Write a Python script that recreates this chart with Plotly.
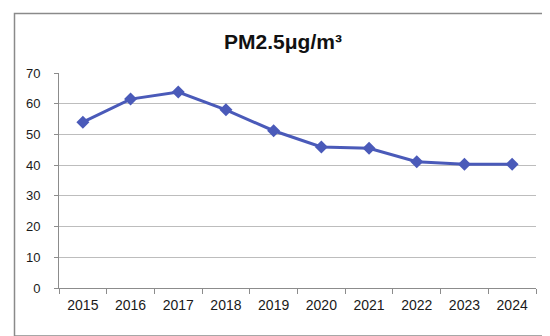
import plotly.graph_objects as go

years = ["2015", "2016", "2017", "2018", "2019", "2020", "2021", "2022", "2023", "2024"]
pm25 = [54.0, 61.5, 63.8, 58.0, 51.2, 45.9, 45.5, 41.1, 40.3, 40.3]
title_text = "PM2.5μg/m³"

L, R, T, B = 51, 22, 65, 56
W, H = 550, 336
pw = W - L - R
ph = H - T - B

def px_to_paper_x(px):
    return (px - L) / pw

def px_to_paper_y(py):
    return (H - B - py) / ph

fig = go.Figure()
fig.add_trace(go.Scatter(
    x=years, y=pm25, mode="lines+markers",
    line=dict(color="#4A5AB9", width=3),
    marker=dict(symbol="diamond", size=10, color="#4A5AB9"),
    showlegend=False,
))

fig.update_layout(
    width=W, height=H,
    margin=dict(l=L, r=R, t=T, b=B),
    paper_bgcolor="white", plot_bgcolor="white",
    font=dict(family="Liberation Sans, Arial, sans-serif", size=13, color="#1a1a1a"),
    title=dict(text=title_text, x=0.5, xref="container", y=1 - 33.5 / H, yref="container",
               xanchor="center", yanchor="middle",
               font=dict(family="Liberation Sans, Arial, sans-serif", size=21, color="#111", weight="bold")),
    xaxis=dict(type="category", tickson="boundaries", ticks="outside", ticklen=5,
               tickcolor="#8c8c8c", showline=True, linecolor="#8c8c8c", linewidth=1,
               showgrid=False, ticklabelstandoff=4, range=[-0.5, 9.5],
               tickfont=dict(size=14)),
    yaxis=dict(range=[0, 70], dtick=10, ticks="outside", ticklen=4, tickcolor="#8c8c8c",
               showline=True, linecolor="#8c8c8c", linewidth=1, gridcolor="#bdbdbd",
               gridwidth=1, zeroline=False, ticklabelstandoff=11),
    shapes=[dict(type="rect", xref="paper", yref="paper",
                 x0=px_to_paper_x(6.5), x1=px_to_paper_x(543),
                 y0=px_to_paper_y(328), y1=px_to_paper_y(5.5),
                 line=dict(color="#8a8a8a", width=1.5), layer="below")],
)

fig.write_html("out.html")
